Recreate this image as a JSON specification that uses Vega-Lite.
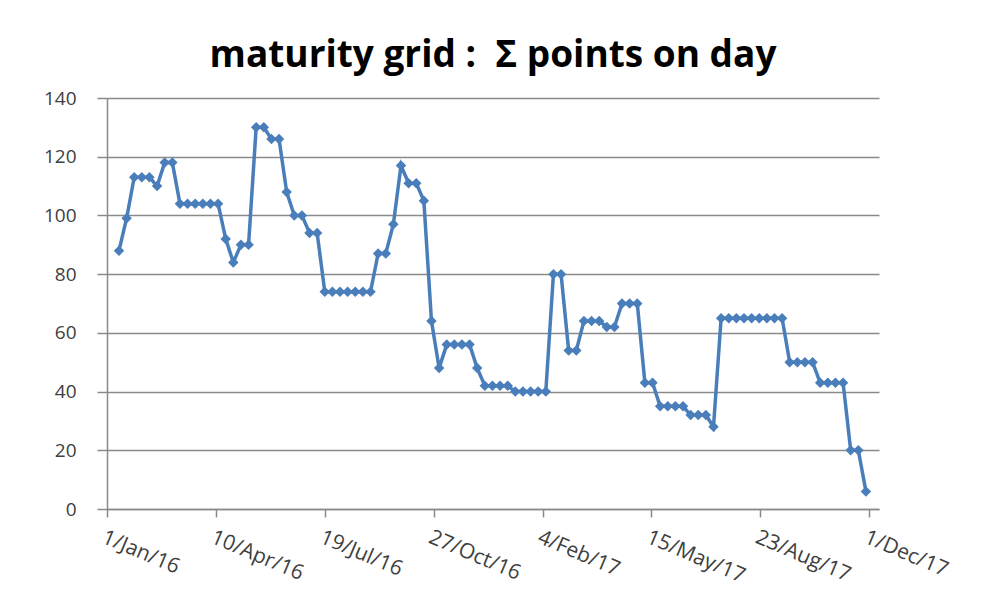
{
  "$schema": "https://vega.github.io/schema/vega-lite/v6.json",
  "autosize": {"type": "none"},
  "width": 772,
  "height": 411,
  "padding": {"left": 107, "top": 98, "right": 120, "bottom": 90},
  "background": "white",
  "title": {
    "text": "maturity grid :\u00a0 Σ points on day",
    "font": "Open Sans",
    "fontSize": 37,
    "fontWeight": "bold",
    "color": "#000000",
    "anchor": "middle",
    "frame": "group",
    "baseline": "alphabetic",
    "offset": -15
  },
  "data": {
    "values": [
      {"date": "2016-01-12", "points": 88},
      {"date": "2016-01-19", "points": 99},
      {"date": "2016-01-26", "points": 113},
      {"date": "2016-02-02", "points": 113},
      {"date": "2016-02-09", "points": 113},
      {"date": "2016-02-16", "points": 110},
      {"date": "2016-02-23", "points": 118},
      {"date": "2016-03-01", "points": 118},
      {"date": "2016-03-08", "points": 104},
      {"date": "2016-03-15", "points": 104},
      {"date": "2016-03-22", "points": 104},
      {"date": "2016-03-29", "points": 104},
      {"date": "2016-04-05", "points": 104},
      {"date": "2016-04-12", "points": 104},
      {"date": "2016-04-19", "points": 92},
      {"date": "2016-04-26", "points": 84},
      {"date": "2016-05-03", "points": 90},
      {"date": "2016-05-10", "points": 90},
      {"date": "2016-05-17", "points": 130},
      {"date": "2016-05-24", "points": 130},
      {"date": "2016-05-31", "points": 126},
      {"date": "2016-06-07", "points": 126},
      {"date": "2016-06-14", "points": 108},
      {"date": "2016-06-21", "points": 100},
      {"date": "2016-06-28", "points": 100},
      {"date": "2016-07-05", "points": 94},
      {"date": "2016-07-12", "points": 94},
      {"date": "2016-07-19", "points": 74},
      {"date": "2016-07-26", "points": 74},
      {"date": "2016-08-02", "points": 74},
      {"date": "2016-08-09", "points": 74},
      {"date": "2016-08-16", "points": 74},
      {"date": "2016-08-23", "points": 74},
      {"date": "2016-08-30", "points": 74},
      {"date": "2016-09-06", "points": 87},
      {"date": "2016-09-13", "points": 87},
      {"date": "2016-09-20", "points": 97},
      {"date": "2016-09-27", "points": 117},
      {"date": "2016-10-04", "points": 111},
      {"date": "2016-10-11", "points": 111},
      {"date": "2016-10-18", "points": 105},
      {"date": "2016-10-25", "points": 64},
      {"date": "2016-11-01", "points": 48},
      {"date": "2016-11-08", "points": 56},
      {"date": "2016-11-15", "points": 56},
      {"date": "2016-11-22", "points": 56},
      {"date": "2016-11-29", "points": 56},
      {"date": "2016-12-06", "points": 48},
      {"date": "2016-12-13", "points": 42},
      {"date": "2016-12-20", "points": 42},
      {"date": "2016-12-27", "points": 42},
      {"date": "2017-01-03", "points": 42},
      {"date": "2017-01-10", "points": 40},
      {"date": "2017-01-17", "points": 40},
      {"date": "2017-01-24", "points": 40},
      {"date": "2017-01-31", "points": 40},
      {"date": "2017-02-07", "points": 40},
      {"date": "2017-02-14", "points": 80},
      {"date": "2017-02-21", "points": 80},
      {"date": "2017-02-28", "points": 54},
      {"date": "2017-03-07", "points": 54},
      {"date": "2017-03-14", "points": 64},
      {"date": "2017-03-21", "points": 64},
      {"date": "2017-03-28", "points": 64},
      {"date": "2017-04-04", "points": 62},
      {"date": "2017-04-11", "points": 62},
      {"date": "2017-04-18", "points": 70},
      {"date": "2017-04-25", "points": 70},
      {"date": "2017-05-02", "points": 70},
      {"date": "2017-05-09", "points": 43},
      {"date": "2017-05-16", "points": 43},
      {"date": "2017-05-23", "points": 35},
      {"date": "2017-05-30", "points": 35},
      {"date": "2017-06-06", "points": 35},
      {"date": "2017-06-13", "points": 35},
      {"date": "2017-06-20", "points": 32},
      {"date": "2017-06-27", "points": 32},
      {"date": "2017-07-04", "points": 32},
      {"date": "2017-07-11", "points": 28},
      {"date": "2017-07-18", "points": 65},
      {"date": "2017-07-25", "points": 65},
      {"date": "2017-08-01", "points": 65},
      {"date": "2017-08-08", "points": 65},
      {"date": "2017-08-15", "points": 65},
      {"date": "2017-08-22", "points": 65},
      {"date": "2017-08-29", "points": 65},
      {"date": "2017-09-05", "points": 65},
      {"date": "2017-09-12", "points": 65},
      {"date": "2017-09-19", "points": 50},
      {"date": "2017-09-26", "points": 50},
      {"date": "2017-10-03", "points": 50},
      {"date": "2017-10-10", "points": 50},
      {"date": "2017-10-17", "points": 43},
      {"date": "2017-10-24", "points": 43},
      {"date": "2017-10-31", "points": 43},
      {"date": "2017-11-07", "points": 43},
      {"date": "2017-11-14", "points": 20},
      {"date": "2017-11-21", "points": 20},
      {"date": "2017-11-28", "points": 6}
    ]
  },
  "mark": {
    "type": "line",
    "color": "#4a7ebb",
    "strokeWidth": 3.5,
    "point": {"filled": true, "shape": "diamond", "size": 110, "color": "#4a7ebb"}
  },
  "encoding": {
    "x": {
      "field": "date",
      "type": "temporal",
      "scale": {"type": "utc", "domain": ["2016-01-01", "2017-12-10"]},
      "axis": {
        "title": null,
        "values": ["2016-01-01", "2016-04-10", "2016-07-19", "2016-10-27", "2017-02-04", "2017-05-15", "2017-08-23", "2017-12-01"],
        "labelExpr": "utcFormat(datum.value, '%-d/%b/%y')",
        "grid": false,
        "domainColor": "#8a8a8a",
        "domainWidth": 1.5,
        "tickColor": "#8a8a8a",
        "tickWidth": 1.5,
        "tickSize": 8,
        "labelAngle": 23,
        "labelAlign": "left",
        "labelBaseline": "top",
        "labelPadding": 9,
        "labelFont": "Open Sans",
        "labelFontSize": 21,
        "labelColor": "#404040",
        "labelFlush": false,
        "labelOverlap": false
      }
    },
    "y": {
      "field": "points",
      "type": "quantitative",
      "scale": {"domain": [0, 140], "nice": false},
      "axis": {
        "title": null,
        "values": [0, 20, 40, 60, 80, 100, 120, 140],
        "grid": true,
        "gridColor": "#8a8a8a",
        "gridWidth": 1.5,
        "domainColor": "#8a8a8a",
        "domainWidth": 1.5,
        "tickColor": "#8a8a8a",
        "tickWidth": 1.5,
        "tickSize": 10,
        "labelPadding": 21,
        "labelFont": "Open Sans",
        "labelFontSize": 19,
        "labelColor": "#404040"
      }
    }
  },
  "config": {"view": {"stroke": null}}
}
